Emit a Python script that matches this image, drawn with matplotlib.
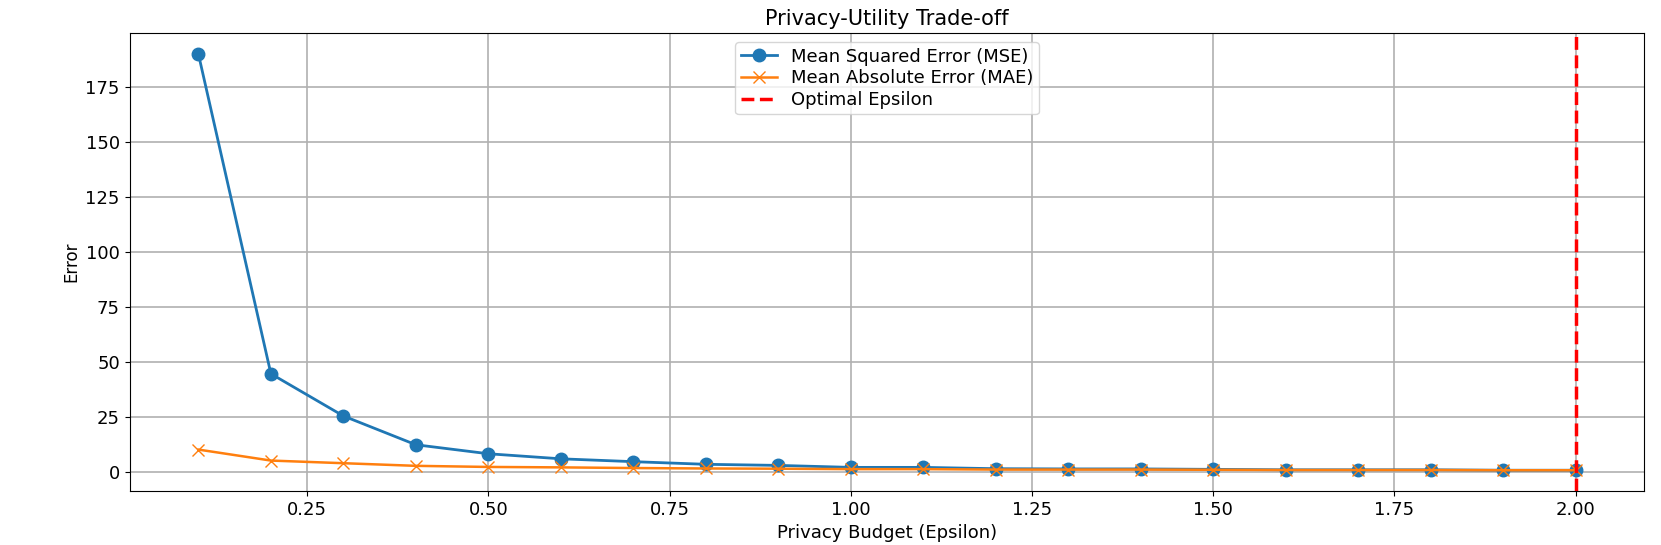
import numpy as np
import matplotlib
matplotlib.use("Agg")
import matplotlib.pyplot as plt

# privacy budget values
epsilons = [0.1, 0.2, 0.3, 0.4, 0.5, 0.6, 0.7, 0.8, 0.9, 1.0,
            1.1, 1.2, 1.3, 1.4, 1.5, 1.6, 1.7, 1.8, 1.9, 2.0]

# errors
mse = [190.0, 44.5, 25.3, 12.2, 8.1, 5.8, 4.5, 3.3, 2.8, 1.9,
       1.9, 1.3, 1.2, 1.2, 1.0, 0.8, 0.8, 0.8, 0.6, 0.6]
mae = [10.0, 5.0, 3.8, 2.6, 2.1, 1.9, 1.6, 1.4, 1.3, 1.1,
       1.1, 0.9, 0.9, 0.9, 0.8, 0.7, 0.7, 0.7, 0.6, 0.6]

optimal_epsilon = 2.0

fig = plt.figure(figsize=(16.61, 5.45), dpi=100)
plt.plot(epsilons, mse, marker="o", markersize=9, linewidth=2, label="Mean Squared Error (MSE)")
plt.plot(epsilons, mae, marker="x", markersize=9, linewidth=1.8, label="Mean Absolute Error (MAE)")
plt.axvline(optimal_epsilon, color="r", linestyle="--", linewidth=2.5, label="Optimal Epsilon")
plt.xlabel("Privacy Budget (Epsilon)", fontsize=13)
plt.ylabel("Error", fontsize=12)
plt.title("Privacy-Utility Trade-off", fontsize=15)
plt.xticks(fontsize=13)
plt.yticks(fontsize=13)
plt.legend(loc="upper center", fontsize=13, borderpad=0.3, labelspacing=0.2)
plt.grid(True, linewidth=1.2)
plt.subplots_adjust(left=0.078, right=0.990, top=0.939, bottom=0.099)
plt.savefig("out.png", dpi=100)
